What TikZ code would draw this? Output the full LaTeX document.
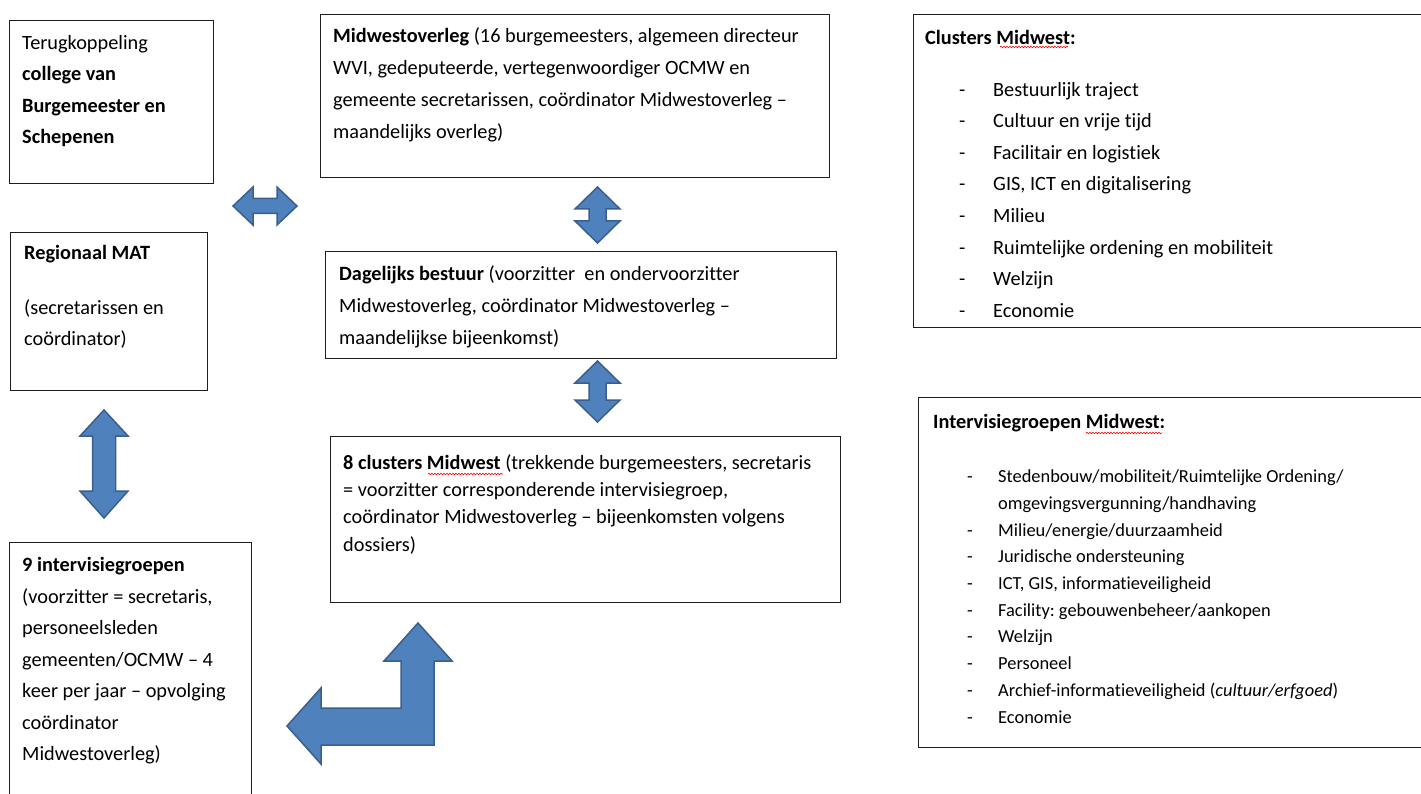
\documentclass[tikz,border=0pt]{standalone}
\usepackage{fontspec}
\setmainfont{Carlito}[Ligatures={NoCommon}]
\usetikzlibrary{decorations.pathmorphing}
\definecolor{arrowfill}{HTML}{4F81BD}
\definecolor{arrowline}{HTML}{3A5F8C}
\definecolor{boxline}{HTML}{1E1E1E}
\frenchspacing
\newcommand\fl{\rule{0pt}{16pt}}
\newcommand\dashitem[1]{\makebox[34pt][l]{-}#1}
\newcommand\dashitemb[1]{\makebox[31pt][l]{-}#1}
\begin{document}
\begin{tikzpicture}[x=1pt,y=-1pt,
  box/.style={draw=boxline, line width=1.2pt, anchor=north west, inner sep=0pt},
  txt/.style={anchor=north west, inner sep=0pt, align=left, font=\fontsize{20.3}{31.5}\selectfont\frenchspacing},
  txtb/.style={txt, font=\fontsize{18.4}{26.7}\selectfont\frenchspacing},
  blockarrow/.style={fill=arrowfill, draw=arrowline, line width=1.5pt, line join=miter},
  squig/.style={draw=red, line width=0.6pt, decorate, decoration={snake, amplitude=0.8pt, segment length=3pt}}]
\useasboundingbox (0,0) rectangle (1421,794);

% boxes
\node[box, minimum width=204pt, minimum height=163pt] (fb) at (9,20) {};
\node[box, minimum width=509pt, minimum height=163pt] (mo) at (320,14) {};
\node[box, minimum width=511pt, minimum height=313pt] (cl) at (913,14) {};
\node[box, minimum width=197pt, minimum height=158pt] (mat) at (10,232) {};
\node[box, minimum width=511pt, minimum height=107pt] (db) at (325,251) {};
\node[box, minimum width=510pt, minimum height=166pt] (cm) at (330,436) {};
\node[box, minimum width=510pt, minimum height=350pt] (ig) at (918,397) {};
\node[box, minimum width=242pt, minimum height=270pt] (ivg) at (9,542) {};

% texts
\node[txt] (fbt) at (22,33) {\fl Terugkoppeling\\\textbf{college van}\\\textbf{Burgemeester en}\\\textbf{Schepenen}};
\node[txt, font=\fontsize{20.3}{32.2}\selectfont\frenchspacing] (mot) at (333,26) {\fl\textbf{Midwestoverleg} (16 burgemeesters, algemeen directeur\\WVI, gedeputeerde, vertegenwoordiger OCMW en\\gemeente secretarissen, coördinator Midwestoverleg –\\maandelijks overleg)};
\node[txt] (clt) at (925,28.5) {\fl\textbf{Clusters Midwest:}};
\node[txt, font=\fontsize{20.3}{31.6}\selectfont\frenchspacing] (cll) at (959,80) {\fl\dashitem{Bestuurlijk traject}\\\dashitem{Cultuur en vrije tijd}\\\dashitem{Facilitair en logistiek}\\\dashitem{GIS, ICT en digitalisering}\\\dashitem{Milieu}\\\dashitem{Ruimtelijke ordening en mobiliteit}\\\dashitem{Welzijn}\\\dashitem{Economie}};
\node[txt] (matt) at (24,243) {\fl\textbf{Regionaal MAT}};
\node[txt] (matd) at (24,298) {\fl(secretarissen en\\coördinator)};
\node[txt, font=\fontsize{20.3}{32.2}\selectfont\frenchspacing] (dbt) at (339,264) {\fl\textbf{Dagelijks bestuur} (voorzitter~ en ondervoorzitter\\Midwestoverleg, coördinator Midwestoverleg –\\maandelijkse bijeenkomst)};
\node[txt, font=\fontsize{20.3}{27.3}\selectfont\frenchspacing] (cmt) at (343,453) {\fl\textbf{8 clusters Midwest} (trekkende burgemeesters, secretaris\\= voorzitter corresponderende intervisiegroep,\\coördinator Midwestoverleg – bijeenkomsten volgens\\dossiers)};
\node[txt] (igt) at (933,412) {\fl\textbf{Intervisiegroepen Midwest:}};
\node[txtb] (igl) at (967,466.5) {\fl\dashitemb{Stedenbouw/mobiliteit/Ruimtelijke Ordening/}\\\hspace*{31pt}omgevingsvergunning/handhaving\\\dashitemb{Milieu/energie/duurzaamheid}\\\dashitemb{Juridische ondersteuning}\\\dashitemb{ICT, GIS, informatieveiligheid}\\\dashitemb{Facility: gebouwenbeheer/aankopen}\\\dashitemb{Welzijn}\\\dashitemb{Personeel}\\\dashitemb{Archief-informatieveiligheid (\textit{cultuur/erfgoed})}\\\dashitemb{Economie}};
\node[txt] (ivgt) at (22,555.5) {\fl\textbf{9 intervisiegroepen}\\(voorzitter = secretaris,\\personeelsleden\\gemeenten/OCMW – 4\\keer per jaar – opvolging\\coördinator\\Midwestoverleg)};

% spell-check squiggles
\draw[squig] (1000,47) -- (1068,47);
\draw[squig] (1086,433) -- (1162,433);
\draw[squig] (428,474) -- (503,474);

% block arrows
\path[blockarrow] (233,206) -- (253,187) -- (253,198.5) -- (277,198.5) -- (277,187) -- (297,206) -- (277,225) -- (277,213.5) -- (253,213.5) -- (253,225) -- cycle;
\path[blockarrow] (597.5,187) -- (620,209) -- (606,209) -- (606,221) -- (620,221) -- (597.5,243) -- (575,221) -- (589,221) -- (589,209) -- (575,209) -- cycle;
\path[blockarrow] (597.5,361) -- (620,383) -- (606,383) -- (606,400) -- (620,400) -- (597.5,422) -- (575,400) -- (589,400) -- (589,383) -- (575,383) -- cycle;
\path[blockarrow] (104,410) -- (128,436) -- (115.5,436) -- (115.5,491) -- (128,491) -- (104,518) -- (80,491) -- (92.5,491) -- (92.5,436) -- (80,436) -- cycle;
\path[blockarrow] (418,623) -- (452,661) -- (434,661) -- (434,745) -- (321,745) -- (321,764) -- (287,726) -- (321,688) -- (321,708) -- (401,708) -- (401,661) -- (384,661) -- cycle;
\end{tikzpicture}
\end{document}
